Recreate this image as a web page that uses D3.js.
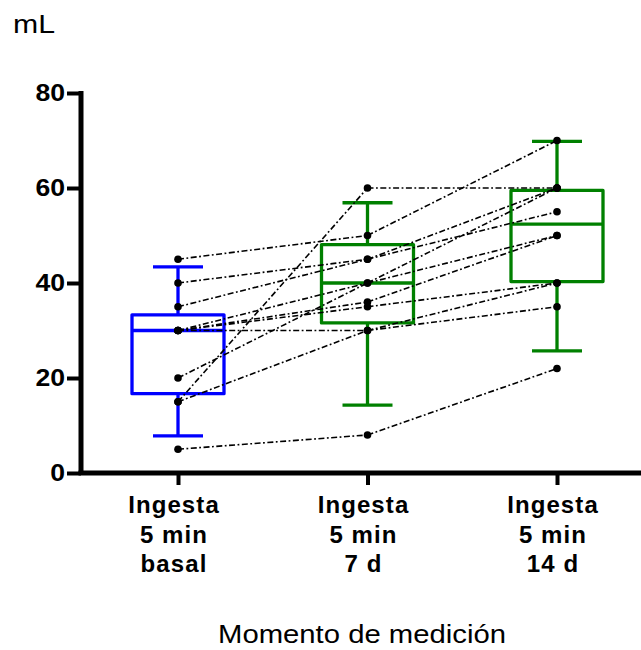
<!DOCTYPE html>
<html>
<head>
<meta charset="utf-8">
<script src="https://cdn.jsdelivr.net/npm/d3@7"></script>
<style>
  html, body { margin: 0; padding: 0; background: #ffffff; }
  svg { display: block; }
</style>
</head>
<body>
<script>
// ---------------- data ----------------
const categories = ["basal", "7d", "14d"];
const catLabels = [
  ["Ingesta", "5 min", "basal"],
  ["Ingesta", "5 min", "7 d"],
  ["Ingesta", "5 min", "14 d"]
];
// per-subject values (one entry per subject, same order in every array)
const basal = [45, 40, 35, 30, 30, 30, 30, 20, 15, 15, 5];
const day7  = [50, 45, 45, 40, 36, 35, 30, 40, 60, 30, 8];
const day14 = [70, 60, 55, 60, 50, 40, 40, 50, 60, 35, 22];
// box statistics
const boxQ1        = [16.7, 31.6, 40.3];
const boxMedian    = [30.0, 40.0, 52.4];
const boxQ3        = [33.3, 48.1, 59.5];
const whiskerLow   = [7.8, 14.3, 25.7];
const whiskerHigh  = [43.4, 56.9, 69.8];
const boxColors    = ["#0000ff", "#008000", "#008000"];
const yTicks = [0, 20, 40, 60, 80];
const yTitle = "mL";
const xTitle = "Momento de medición";

// ---------------- layout ----------------
const W = 641, H = 650;
const svg = d3.select("body").append("svg").attr("width", W).attr("height", H);

const y = d3.scaleLinear().domain([0, 80]).range([473, 93]);
const x = d3.scalePoint().domain(categories).range([178, 557]);
const axisX = 81;
const boxHalf = 46, capHalf = 25;

// ---------------- boxes ----------------
const gBox = svg.append("g");
categories.forEach((c, i) => {
  const cx = x(c), col = boxColors[i];
  const g = gBox.append("g").attr("stroke", col).attr("stroke-width", 3.3).attr("fill", "none")
    .attr("stroke-linecap", "butt");
  g.append("line").attr("x1", cx).attr("x2", cx).attr("y1", y(whiskerHigh[i])).attr("y2", y(boxQ3[i]));
  g.append("line").attr("x1", cx).attr("x2", cx).attr("y1", y(boxQ1[i])).attr("y2", y(whiskerLow[i]));
  g.append("line").attr("x1", cx - capHalf).attr("x2", cx + capHalf).attr("y1", y(whiskerHigh[i])).attr("y2", y(whiskerHigh[i]));
  g.append("line").attr("x1", cx - capHalf).attr("x2", cx + capHalf).attr("y1", y(whiskerLow[i])).attr("y2", y(whiskerLow[i]));
  g.append("rect").attr("x", cx - boxHalf).attr("y", y(boxQ3[i]))
    .attr("width", boxHalf * 2).attr("height", y(boxQ1[i]) - y(boxQ3[i]))
    .attr("stroke-linejoin", "round");
  g.append("line").attr("x1", cx - boxHalf).attr("x2", cx + boxHalf).attr("y1", y(boxMedian[i])).attr("y2", y(boxMedian[i]));
});

// ---------------- subject lines ----------------
const series = [basal, day7, day14];
const gLines = svg.append("g").attr("stroke", "#000").attr("stroke-width", 1.6)
  .attr("fill", "none").attr("stroke-dasharray", "6,2.5,1.8,2.5");
basal.forEach((_, s) => {
  for (let k = 0; k < categories.length - 1; k++) {
    gLines.append("line")
      .attr("x1", x(categories[k])).attr("y1", y(series[k][s]))
      .attr("x2", x(categories[k + 1])).attr("y2", y(series[k + 1][s]));
  }
});

// ---------------- dots ----------------
const gDots = svg.append("g").attr("fill", "#000");
series.forEach((arr, k) => {
  arr.forEach(v => {
    gDots.append("circle").attr("cx", x(categories[k])).attr("cy", y(v)).attr("r", 3.8);
  });
});

// ---------------- axes ----------------
const yAxis = d3.axisLeft(y).tickValues(yTicks).tickSize(14).tickPadding(4).tickSizeOuter(0);
const gy = svg.append("g").attr("transform", `translate(${axisX},0)`).call(yAxis);
gy.select(".domain").attr("stroke", "#000").attr("stroke-width", 5)
  .attr("d", `M0,${y(80) - 2}V${y(0) + 2}`);
gy.selectAll(".tick line").attr("stroke", "#000").attr("stroke-width", 4);
gy.selectAll(".tick text")
  .attr("font-family", "Liberation Sans, Arial, sans-serif")
  .attr("font-weight", "bold").attr("font-size", 24.5).attr("fill", "#000")
  .attr("dy", "0.32em").attr("x", -16)
  .attr("textLength", d => String(d).length * 14.8).attr("lengthAdjust", "spacingAndGlyphs");

const xAxis = d3.axisBottom(x).tickSize(12).tickFormat("").tickSizeOuter(0);
const gx = svg.append("g").attr("transform", `translate(0,${y(0)})`).call(xAxis);
gx.select(".domain").attr("stroke", "#000").attr("stroke-width", 5)
  .attr("d", `M${axisX - 2.5},0H${W}`);
gx.selectAll(".tick line").attr("stroke", "#000").attr("stroke-width", 4);

// category labels
const labelBaselines = [513, 543, 572];
categories.forEach((c, i) => {
  catLabels[i].forEach((t, j) => {
    svg.append("text")
      .attr("x", x(c) - 4).attr("y", labelBaselines[j])
      .attr("text-anchor", "middle")
      .attr("font-family", "Liberation Sans, Arial, sans-serif")
      .attr("font-weight", "bold").attr("font-size", 24)
      .attr("letter-spacing", 1.1)
      .text(t);
  });
});

// titles
svg.append("text").attr("x", 362).attr("y", 643).attr("text-anchor", "middle")
  .attr("font-family", "Liberation Sans, Arial, sans-serif").attr("font-size", 25.5)
  .attr("textLength", 288).attr("lengthAdjust", "spacingAndGlyphs")
  .text(xTitle);
svg.append("text").attr("x", 13).attr("y", 33)
  .attr("font-family", "Liberation Sans, Arial, sans-serif").attr("font-size", 25)
  .attr("textLength", 42).attr("lengthAdjust", "spacingAndGlyphs")
  .text(yTitle);
</script>
</body>
</html>
